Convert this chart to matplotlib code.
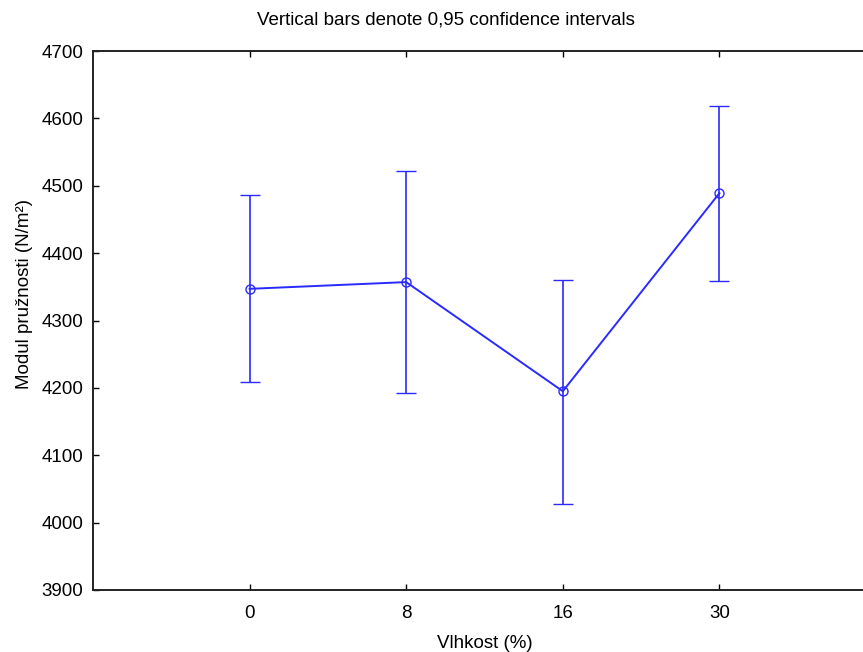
import matplotlib.pyplot as plt

plt.rcParams['font.family'] = ['Liberation Sans', 'DejaVu Sans']

# moisture levels (%) and modulus of elasticity with 0.95 CI
categories = ['0', '8', '16', '30']
means = [4347, 4357, 4195, 4489]
ci_low = [4209, 4192, 4028, 4358]
ci_high = [4486, 4522, 4360, 4619]
yticks = [3900, 4000, 4100, 4200, 4300, 4400, 4500, 4600, 4700]

xpos = list(range(1, len(categories) + 1))
err_low = [m - lo for m, lo in zip(means, ci_low)]
err_high = [hi - m for m, hi in zip(means, ci_high)]

fig = plt.figure(figsize=(8.63, 6.52), dpi=100)
# right spine falls just outside the picture in the reference
ax = fig.add_axes([93 / 863, 1 - 590 / 652, (876 - 93) / 863, (590 - 51) / 652])

color = '#2a2aff'
ax.errorbar(xpos, means, yerr=[err_low, err_high], fmt='-o', color=color,
            linewidth=1.4, elinewidth=1.2, capsize=7, capthick=1.3,
            markersize=6.5, markerfacecolor='none', markeredgewidth=1.0)

ax.set_xlim(0, len(categories) + 1)
ax.set_ylim(3900, 4700)
ax.set_xticks(xpos)
ax.set_xticklabels(categories)
ax.set_yticks(yticks)

for side in ['left', 'bottom', 'top', 'right']:
    ax.spines[side].set_linewidth(1.4)
    ax.spines[side].set_color('#222222')

ax.tick_params(direction='in', length=4, width=1, labelsize=13.5,
               top=True, right=True, pad=7)
ax.tick_params(axis='x', pad=11)

ax.set_xlabel('Vlhkost (%)', fontsize=13.5, labelpad=9)
ax.set_ylabel('Modul pružnosti (N/m²)', fontsize=13.5, labelpad=5)
ax.yaxis.set_label_coords(-0.076, 0.55)
fig.text(446 / 863, 1 - 20 / 652, 'Vertical bars denote 0,95 confidence intervals',
         ha='center', va='center', fontsize=13.5)

plt.savefig('out.png', dpi=100)
